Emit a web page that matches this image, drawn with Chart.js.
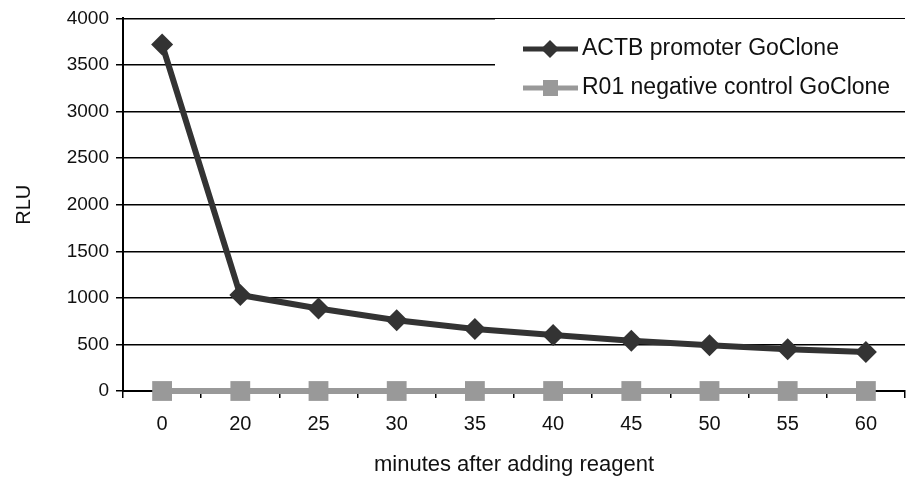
<!DOCTYPE html>
<html>
<head>
<meta charset="utf-8">
<script src="https://cdn.jsdelivr.net/npm/chart.js@4/dist/chart.umd.min.js"></script>
<style>
  html, body { margin: 0; padding: 0; background: #fff; overflow: hidden; }
  canvas { display: block; }
</style>
</head>
<body>
<canvas id="chart" width="907" height="478"></canvas>
<script>
/* ── 資料 ─────────────────────────────── */
const minutes = ['0', '20', '25', '30', '35', '40', '45', '50', '55', '60'];
const actbValues = [3720, 1030, 885, 760, 665, 600, 540, 492, 448, 418];
const r01Values = [0, 0, 0, 0, 0, 0, 0, 0, 0, 0];
const yTicks = { min: 0, max: 4000, step: 500 };

const DARK = '#333333';
const GRAY = '#999999';
const FONT = 'Liberation Sans, Arial, sans-serif';

/* 圖內圖例（白底蓋住格線） */
const insideLegend = {
  id: 'insideLegend',
  beforeDatasetsDraw(chart) {
    const ctx = chart.ctx;
    ctx.save();
    ctx.fillStyle = '#fff';
    ctx.fillRect(495, 19, 412, 89);
    const rows = [
      { label: 'ACTB promoter GoClone', color: DARK, y: 49, style: 'diamond' },
      { label: 'R01 negative control GoClone', color: GRAY, y: 88, style: 'square' }
    ];
    rows.forEach(r => {
      ctx.strokeStyle = r.color;
      ctx.lineWidth = 5;
      ctx.beginPath();
      ctx.moveTo(523, r.y);
      ctx.lineTo(578, r.y);
      ctx.stroke();
      ctx.fillStyle = r.color;
      if (r.style === 'diamond') {
        ctx.beginPath();
        ctx.moveTo(550, r.y - 9);
        ctx.lineTo(559, r.y);
        ctx.lineTo(550, r.y + 9);
        ctx.lineTo(541, r.y);
        ctx.closePath();
        ctx.fill();
      } else {
        ctx.fillRect(543, r.y - 8, 15, 16);
      }
      ctx.fillStyle = '#111';
      ctx.font = '23px ' + FONT;
      ctx.textBaseline = 'middle';
      ctx.textAlign = 'left';
      ctx.fillText(r.label, 582, r.y);
    });
    ctx.restore();
  }
};

new Chart(document.getElementById('chart'), {
  type: 'line',
  data: {
    labels: minutes,
    datasets: [
      {
        label: 'R01 negative control GoClone',
        data: r01Values,
        borderColor: GRAY,
        backgroundColor: GRAY,
        borderWidth: 6,
        pointStyle: 'rect',
        pointRadius: 14,
        pointBorderWidth: 0,
        clip: false,
        tension: 0
      },
      {
        label: 'ACTB promoter GoClone',
        data: actbValues,
        borderColor: DARK,
        backgroundColor: DARK,
        borderWidth: 6,
        pointStyle: 'rectRot',
        pointRadius: 11,
        pointBorderWidth: 0,
        clip: false,
        tension: 0
      }
    ]
  },
  options: {
    responsive: false,
    animation: false,
    devicePixelRatio: 1,
    layout: { autoPadding: false, padding: { left: 0, right: 2, top: 17, bottom: 0 } },
    plugins: {
      legend: { display: false },
      tooltip: { enabled: false }
    },
    scales: {
      x: {
        offset: true,
        grid: {
          offset: true,
          drawOnChartArea: false,
          drawTicks: true,
          tickLength: 7,
          color: '#000',
          lineWidth: 1.5
        },
        border: { color: '#000', width: 2 },
        ticks: { color: '#111', font: { family: FONT, size: 20 }, padding: 14 },
        title: {
          display: true,
          text: 'minutes after adding reagent',
          color: '#111',
          font: { family: FONT, size: 22 },
          padding: { top: 0, bottom: 0 }
        },
        afterFit: s => { s.height = 87; s.paddingLeft = 0; s.paddingRight = 0; }
      },
      y: {
        min: yTicks.min,
        max: yTicks.max,
        grid: { color: '#000', lineWidth: 1.5, tickLength: 7 },
        border: { color: '#000', width: 2 },
        ticks: {
          stepSize: yTicks.step,
          color: '#111',
          font: { family: FONT, size: 19 },
          padding: 7,
          callback: v => String(v)
        },
        title: {
          display: true,
          text: 'RLU',
          color: '#111',
          font: { family: FONT, size: 20 },
          padding: { top: 12, bottom: 0 }
        },
        afterFit: s => { s.width = 123; }
      }
    }
  },
  plugins: [insideLegend]
});
</script>
</body>
</html>
